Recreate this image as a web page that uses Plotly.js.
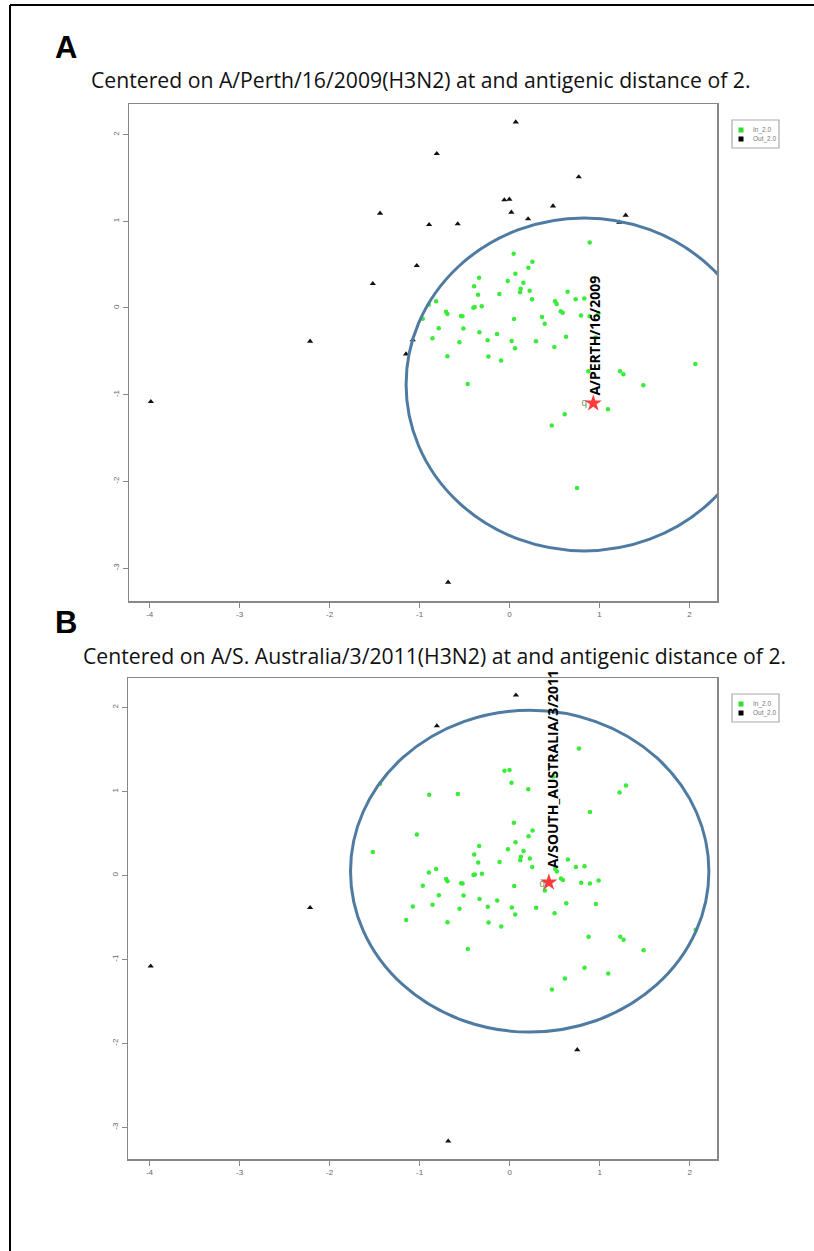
<!DOCTYPE html>
<html><head><meta charset="utf-8">
<script src="https://cdn.plot.ly/plotly-3.0.1.min.js"></script>
<style>body{margin:0;background:#fff}#chart{width:814px;height:1251px}</style>
</head><body><div id="chart"></div>
<script>
// ---- data (antigenic map coordinates, shared by both panels) ----
var ptX = [0.069,-0.809,0.769,-0.058,-0.002,0.483,0.020,0.206,1.291,1.220,
  -0.894,-0.576,-1.031,-1.150,-1.076,-0.683,-1.439,-1.520,-2.217,-3.987,
  0.891,0.046,0.254,0.209,0.065,-0.339,-0.020,0.154,-0.394,0.124,
  0.224,0.117,0.646,-0.350,-0.113,-0.817,0.735,0.831,0.250,0.506,
  0.524,-0.309,-0.402,-0.387,-0.706,-0.691,0.569,0.591,-0.539,-0.524,
  0.794,0.361,0.050,-0.965,0.391,-0.787,-0.513,-0.335,-0.139,-0.857,
  -0.243,-0.557,0.024,0.294,0.628,0.498,0.061,-0.691,-0.235,-0.094,
  2.065,1.228,1.265,-0.465,1.487,1.094,0.613,0.469,0.750,
  -0.898,0.891,0.987,0.957,0.876,0.831];
var ptY = [2.145,1.780,1.511,1.246,1.254,1.176,1.104,1.027,1.069,0.988,
  0.961,0.969,0.488,-0.531,-0.369,-3.164,1.092,0.280,-0.384,-1.081,
  0.754,0.627,0.534,0.465,0.396,0.350,0.311,0.292,0.250,0.223,
  0.200,0.181,0.188,0.154,0.161,0.077,0.100,0.108,0.100,0.077,
  0.046,0.019,0.004,0.012,-0.042,-0.069,-0.038,-0.054,-0.092,-0.096,
  -0.088,-0.104,-0.127,-0.123,-0.181,-0.235,-0.238,-0.281,-0.300,-0.350,
  -0.373,-0.396,-0.381,-0.385,-0.331,-0.450,-0.465,-0.557,-0.561,-0.607,
  -0.646,-0.731,-0.765,-0.877,-0.892,-1.169,-1.226,-1.357,-2.076,
  0.036,-0.095,-0.060,-0.341,-0.730,-1.099];
// membership: I = In_2.0, O = Out_2.0, R = reference strain (drawn as "q")
var memberA = ("OOOOOOOOOOOOOOOOOOOO" +
  "IIIIIIIIIIIIIIIIIIIIIIIIIIIIIIIIIIIIIIIIIIIIIIIIIIIIIIIIIII" +
  "IIIIIR").split("");
var memberB = ("OOIIIIIIIIIIIIIOIIOO" +
  "IIIIIIIIIIIIIIIIIIIIIIIIIIIIIIIRIIIIIIIIIIIIIIIIIIIIIIIIIIO" +
  "IIIIII").split("");
var panelNames = ["A", "B"];
var panelTitles = ["Centered on A/Perth/16/2009(H3N2) at and antigenic distance of 2.",
                   "Centered on A/S. Australia/3/2011(H3N2) at and antigenic distance of 2."];
var refLabels = ["A/PERTH/16/2009", "A/SOUTH_AUSTRALIA/3/2011"];
var starX = [0.931, 0.435];
var starY = [-1.099, -0.083];
var circleCX = [0.83, 0.222];
var circleCY = [-0.882, 0.05];
var circleRX = [1.98, 1.99];
var circleRY = [1.92, 1.915];
var legendLabels = ["In_2.0", "Out_2.0"];
var legendColors = ["#33dd33", "#000000"];
var xTicks = [-4, -3, -2, -1, 0, 1, 2];
var yTicks = [-3, -2, -1, 0, 1, 2];

// ---- layout helpers ----
var W = 814, H = 1251;
function px(x){ return x / W; }
function py(y){ return 1 - y / H; }

var members = [memberA, memberB];
var traces = [];
for (var p = 0; p < 2; p++) {
  var xa = p === 0 ? "x" : "x2", ya = p === 0 ? "y" : "y2";
  var sel = function(code){
    var xs = [], ys = [];
    for (var i = 0; i < ptX.length; i++) if (members[p][i] === code) { xs.push(ptX[i]); ys.push(ptY[i]); }
    return {x: xs, y: ys};
  };
  var inn = sel("I"), out = sel("O"), ref = sel("R");
  traces.push({type:"scatter", mode:"markers", x: inn.x, y: inn.y, xaxis: xa, yaxis: ya,
    marker:{color:"#38ec38", size:4.5, symbol:"circle"}, showlegend:false, hoverinfo:"skip"});
  traces.push({type:"scatter", mode:"markers", x: out.x, y: out.y, xaxis: xa, yaxis: ya,
    marker:{color:"#111", size:5.5, symbol:"triangle-up"}, showlegend:false, hoverinfo:"skip"});
  traces.push({type:"scatter", mode:"text", x: ref.x, y: ref.y, xaxis: xa, yaxis: ya, text: ref.x.map(function(){return "q";}),
    textfont:{family:"Liberation Sans", size:10, color:"#6f9a6f"}, showlegend:false, hoverinfo:"skip"});
  traces.push({type:"scatter", mode:"markers", x:[starX[p]], y:[starY[p]], xaxis: xa, yaxis: ya,
    marker:{color:"#ff3b3b", size:13, symbol:"star"}, showlegend:false, hoverinfo:"skip"});
}

function axisX(domain, range){
  return {domain: domain, range: range, tickvals: xTicks, ticktext: xTicks.map(String),
    showgrid:false, zeroline:false, showline:true, mirror:true, linecolor:"#888", linewidth:1.5,
    ticks:"outside", ticklen:5, tickcolor:"#888", tickwidth:1,
    tickfont:{family:"Liberation Sans", size:8, color:"#666"}, fixedrange:true};
}
function axisY(domain, range, anchor){
  return {domain: domain, range: range, tickvals: yTicks, ticktext: yTicks.map(String),
    showgrid:false, zeroline:false, showline:true, mirror:true, linecolor:"#888", linewidth:1.5,
    ticks:"outside", ticklen:5, tickcolor:"#888", tickwidth:1, tickangle:-90, anchor: anchor,
    tickfont:{family:"Liberation Sans", size:8, color:"#666"}, fixedrange:true};
}

var boxes = [
  {l:129, r:717, t:104, b:601},
  {l:128, r:717, t:678, b:1159}
];
var xr = [[-4.23, 2.306], [-4.239, 2.302]];
var yr = [[-3.38, 2.353], [-3.376, 2.35]];
var headY = [48, 622], subY = [80, 655], subX = [89, 81], legTop = [120, 694];

var shapes = [
  {type:"line", xref:"paper", yref:"paper", x0:px(10), x1:px(814), y0:py(5), y1:py(5), line:{color:"#000", width:2}},
  {type:"line", xref:"paper", yref:"paper", x0:px(10), x1:px(10), y0:py(5), y1:py(1251), line:{color:"#000", width:2}}
];
var annotations = [];
for (var p = 0; p < 2; p++) {
  var xr_ = p === 0 ? "x" : "x2", yr_ = p === 0 ? "y" : "y2";
  shapes.push({type:"circle", xref:xr_, yref:yr_,
    x0: circleCX[p] - circleRX[p], x1: circleCX[p] + circleRX[p],
    y0: circleCY[p] - circleRY[p], y1: circleCY[p] + circleRY[p],
    line:{color:"#4f7ba3", width:3}});
  annotations.push({xref:"paper", yref:"paper", x:px(53), y:py(headY[p]), xanchor:"left", yanchor:"middle",
    text:"<b>" + panelNames[p] + "</b>", showarrow:false, font:{family:"Liberation Sans", size:31, color:"#000"}});
  annotations.push({xref:"paper", yref:"paper", x:px(subX[p]), y:py(subY[p]), xanchor:"left", yanchor:"middle",
    text: panelTitles[p], showarrow:false, font:{family:"Open Sans", size:21.2, color:"#111"}});
  annotations.push({xref:xr_, yref:yr_, x:starX[p], y:starY[p], xanchor:"center", yanchor:"bottom",
    yshift: p === 0 ? 6 : 12, xshift: p === 0 ? 1 : 3, textangle:-90,
    text:"<b>" + refLabels[p] + "</b>", showarrow:false, font:{family:"Open Sans", size:14, color:"#000"}});
  // legend box
  var lt = legTop[p];
  shapes.push({type:"rect", xref:"paper", yref:"paper", x0:px(732), x1:px(779), y0:py(lt), y1:py(lt + 28),
    line:{color:"#aaa", width:1.2}, fillcolor:"#fff"});
  for (var k = 0; k < 2; k++) {
    var cy = lt + 10 + k * 9;
    shapes.push({type:"rect", xref:"paper", yref:"paper", x0:px(738.5), x1:px(743.5), y0:py(cy - 2.5), y1:py(cy + 2.5),
      line:{width:0}, fillcolor: legendColors[k]});
    annotations.push({xref:"paper", yref:"paper", x:px(751), y:py(cy), xanchor:"left", yanchor:"middle",
      text: legendLabels[k], showarrow:false, font:{family:"Liberation Sans", size:6.5, color:"#777"}});
  }
}

var layout = {
  width: W, height: H, margin:{l:0, r:0, t:0, b:0},
  paper_bgcolor:"#fff", plot_bgcolor:"#fff", showlegend:false,
  xaxis: axisX([px(boxes[0].l), px(boxes[0].r)], xr[0]),
  yaxis: axisY([py(boxes[0].b), py(boxes[0].t)], yr[0], "x"),
  xaxis2: axisX([px(boxes[1].l), px(boxes[1].r)], xr[1]),
  yaxis2: axisY([py(boxes[1].b), py(boxes[1].t)], yr[1], "x2"),
  shapes: shapes, annotations: annotations
};
layout.xaxis2.anchor = "y2";
layout.xaxis.anchor = "y";

Plotly.newPlot("chart", traces, layout, {staticPlot:true, displayModeBar:false});
</script></body></html>
